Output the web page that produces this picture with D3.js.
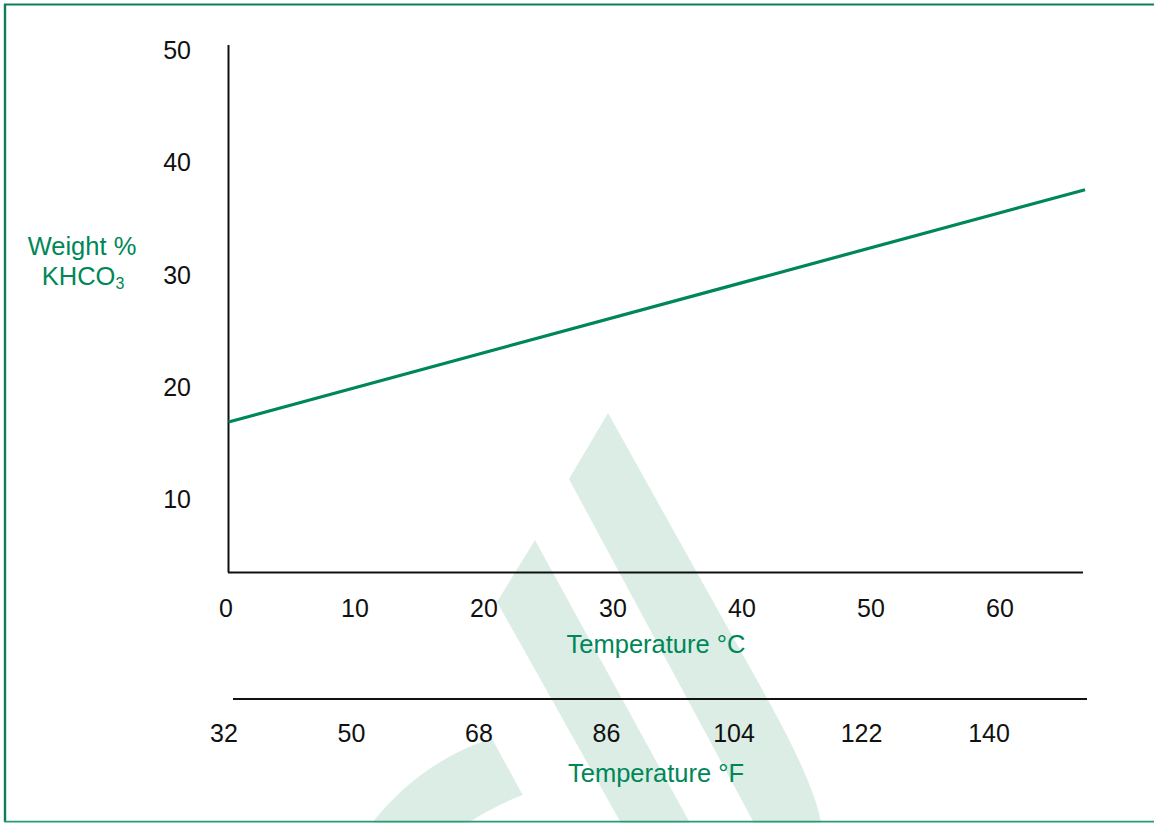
<!DOCTYPE html>
<html>
<head>
<meta charset="utf-8">
<script src="https://cdn.jsdelivr.net/npm/d3@7"></script>
<style>
  body { margin: 0; background: #fff; }
  svg { display: block; font-family: "Liberation Sans", Arial, sans-serif; }
  .tick-label { font-size: 25px; fill: #111; }
  .axis-title { font-size: 25.5px; fill: #008757; }
  .axis-line { stroke: #111; stroke-width: 2; }
</style>
</head>
<body>
<svg id="chart"></svg>
<script>
// data
const tempC = [0, 66.4];
const weightPct = [16.9, 37.6];

const cTicks = [0, 10, 20, 30, 40, 50, 60];
const fTicks = [32, 50, 68, 86, 104, 122, 140];
const yTicks = [10, 20, 30, 40, 50];

const width = 1154, height = 823;
const green = '#008757';

const svg = d3.select('#chart')
    .attr('width', width)
    .attr('height', height);

// scales
const x = d3.scaleLinear().domain([0, 60]).range([226, 1000]);
const xF = d3.scaleLinear().domain([32, 140]).range([224, 989]);
const y = d3.scaleLinear().domain([0, 50]).range([611.7, 50.5]);

// watermark logo in the background
const wm = svg.append('g').attr('fill', '#dcede6');
wm.append('path')
    .attr('d', 'M608,413 L569,479 L754,823 L821,823 Q815,785 768,700 Z');
wm.append('path')
    .attr('d', 'M535,540 L497,602 L621,823 L690,823 Z');
wm.append('path')
    .attr('d', 'M491.7,738.3 L522.7,795 Q494,806 468,823 L372,823 Q420,762 491.7,738.3 Z');

// frame
svg.append('line').attr('x1', 4).attr('y1', 4.5).attr('x2', width).attr('y2', 4.5)
    .attr('stroke', '#0c7f57').attr('stroke-width', 2.2);
svg.append('line').attr('x1', 5).attr('y1', 4).attr('x2', 5).attr('y2', 822)
    .attr('stroke', '#0c7f57').attr('stroke-width', 2.4);
svg.append('line').attr('x1', 4).attr('y1', 821.6).attr('x2', width).attr('y2', 821.6)
    .attr('stroke', '#2a9a72').attr('stroke-width', 1.6);

// y axis line
svg.append('line')
    .attr('class', 'axis-line')
    .attr('x1', 228.5).attr('y1', y(50.5))
    .attr('x2', 228.5).attr('y2', y(3.5));

// celsius axis line
svg.append('line')
    .attr('class', 'axis-line')
    .attr('x1', 228).attr('y1', y(3.5))
    .attr('x2', 1083).attr('y2', y(3.5));

// fahrenheit axis line
svg.append('line')
    .attr('class', 'axis-line')
    .attr('x1', 233).attr('y1', 699)
    .attr('x2', 1087).attr('y2', 699);

// y tick labels
svg.append('g').selectAll('text')
    .data(yTicks)
  .enter().append('text')
    .attr('class', 'tick-label')
    .attr('x', 191)
    .attr('y', d => y(d))
    .attr('dy', '0.35em')
    .attr('text-anchor', 'end')
    .text(d => d);

// celsius tick labels
svg.append('g').selectAll('text')
    .data(cTicks)
  .enter().append('text')
    .attr('class', 'tick-label')
    .attr('x', d => x(d))
    .attr('y', 617)
    .attr('text-anchor', 'middle')
    .text(d => d);

// fahrenheit tick labels
svg.append('g').selectAll('text')
    .data(fTicks)
  .enter().append('text')
    .attr('class', 'tick-label')
    .attr('x', d => xF(d))
    .attr('y', 741.5)
    .attr('text-anchor', 'middle')
    .text(d => d);

// axis titles
svg.append('text')
    .attr('class', 'axis-title')
    .attr('x', 656).attr('y', 653)
    .attr('text-anchor', 'middle')
    .text('Temperature °C');

svg.append('text')
    .attr('class', 'axis-title')
    .attr('x', 656).attr('y', 782)
    .attr('text-anchor', 'middle')
    .text('Temperature °F');

svg.append('text')
    .attr('class', 'axis-title')
    .attr('x', 82).attr('y', 255)
    .attr('text-anchor', 'middle')
    .text('Weight %');

const kh = svg.append('text')
    .attr('class', 'axis-title')
    .attr('x', 83).attr('y', 285)
    .attr('text-anchor', 'middle');
kh.append('tspan').text('KHCO');
kh.append('tspan').attr('font-size', '16px').attr('dy', 4).text('3');

// solubility line
const line = d3.line()
    .x(d => x(d[0]) + 2.5)
    .y(d => y(d[1]));

svg.append('path')
    .datum(d3.zip(tempC, weightPct))
    .attr('fill', 'none')
    .attr('stroke', green)
    .attr('stroke-width', 3.2)
    .attr('d', line);
</script>
</body>
</html>
